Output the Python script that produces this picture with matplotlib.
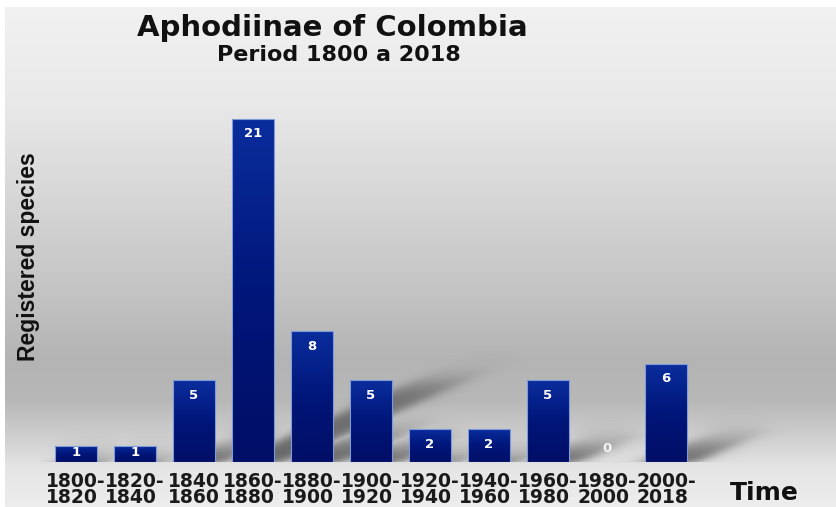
import numpy as np
import matplotlib
matplotlib.use("Agg")
import matplotlib.pyplot as plt
from matplotlib.patches import Rectangle
from matplotlib.colors import LinearSegmentedColormap

# ---- data ----
periods = ["1800-\n1820", "1820-\n1840", "1840\n1860", "1860-\n1880", "1880-\n1900",
           "1900-\n1920", "1920-\n1940", "1940-\n1960", "1960-\n1980", "1980-\n2000",
           "2000-\n2018"]
species = [1, 1, 5, 21, 8, 5, 2, 2, 5, 0, 6]

title = "Aphodiinae of Colombia"
subtitle = "Period 1800 a 2018"
ylabel = "Registered species"
xlabel = "Time"

W, H = 836, 507
fig = plt.figure(figsize=(W / 100, H / 100), dpi=100)
fig.patch.set_facecolor("white")

# ---- background gradient ----
bg = fig.add_axes([5 / W, 0, (W - 5) / W, (H - 7) / H])
bg.set_axis_off()
stops_px = np.array([7, 100, 200, 300, 360, 400, 440, 470, 507])
stops_v = np.array([0.945, 0.915, 0.84, 0.76, 0.705, 0.72, 0.82, 0.90, 0.93])
rows = np.linspace(7, 507, 500)
vals = np.interp(rows, stops_px, stops_v)
grad = np.repeat(vals[:, None], 2, axis=1)
bg.imshow(np.dstack([grad, grad, grad]), aspect="auto", extent=(0, 1, 0, 1))

# ---- main axes ----
left_px, right_px = 40, 830
base_px, top_px = 462, 100
ax = fig.add_axes([left_px / W, (H - base_px) / H, (right_px - left_px) / W,
                   (base_px - top_px) / H])
ax.patch.set_alpha(0)
PX_CAT, PX_UNIT = 59.0, 16.33
x0 = (left_px - 76) / PX_CAT
x1 = (right_px - 76) / PX_CAT
ymax = (base_px - top_px) / PX_UNIT
for s in ax.spines.values():
    s.set_visible(False)

x = np.arange(len(species))
bw = 0.71

# ---- soft diagonal shadows (computed from bar heights) ----
nx, ny = 790, 362
gx = np.linspace(x0, x1, nx)
gy = np.linspace(0, ymax, ny)
X, Y = np.meshgrid(gx, gy)
alpha = np.zeros_like(X)
sig = lambda z: 1.0 / (1.0 + np.exp(-z))
soft = 6.5
for xi, h in zip(x, species):
    if h <= 0:
        continue
    dx, dy = 0.145 * h, 0.235 * h
    t = np.clip(Y / dy, 0, 1.3)
    xl = xi - bw / 2 + t * dx
    xr = xi + bw / 2 + t * dx + 0.2
    a = sig((X - xl) * PX_CAT / soft) * sig((xr - X) * PX_CAT / soft)
    a *= sig((dy - Y) * PX_UNIT / soft)
    a *= sig((Y + 0.15) * PX_UNIT / 2.0)
    a *= (1 - 0.3 * np.clip(Y / dy, 0, 1))
    alpha = np.maximum(alpha, a)
rgba = np.zeros((ny, nx, 4))
rgba[..., :3] = 0.2
rgba[..., 3] = 0.72 * alpha
ax.imshow(rgba, origin="lower", extent=(x0, x1, 0, ymax), aspect="auto",
          zorder=1, interpolation="bilinear")

# bars with vertical gradient
cmap = LinearSegmentedColormap.from_list("barg", ["#000e66", "#00167a", "#0a2d9c"])
bars = ax.bar(x, species, width=bw, color="none", edgecolor="#7f9ad8",
              linewidth=0.8, zorder=4)
gvals = np.linspace(0, 1, 100)[:, None]
for b in bars:
    h = b.get_height()
    if h <= 0:
        continue
    bx = b.get_x()
    im = ax.imshow(gvals[::-1], cmap=cmap, aspect="auto",
                   extent=(bx, bx + b.get_width(), 0, h), zorder=3,
                   origin="upper")
    rect = Rectangle((bx, 0), b.get_width(), h, transform=ax.transData)
    im.set_clip_path(rect)
ax.set_xlim(x0, x1)
ax.set_ylim(0, ymax)

# value labels
for xi, h in zip(x, species):
    if h == 0:
        yy, col = 0.8, "#f4f4f4"
    elif h == 1:
        yy, col = 0.6, "white"
    else:
        yy, col = h - 0.9, "white"
    ax.text(xi, yy, str(h), ha="center", va="center", color=col,
            fontsize=9.5, fontweight="bold", family=["DejaVu Sans"], zorder=6)

ax.set_yticks([])
ax.set_xticks(x)
ax.set_xticklabels(periods, fontsize=13.5, fontweight="bold",
                   family=["DejaVu Sans"], linespacing=0.85, color="#1a1a1a")
ax.tick_params(axis="x", length=0, pad=7)
for t in ax.get_xticklabels():
    t.set_multialignment("left")

# titles and axis labels
fig.text(332 / W, 1 - 36 / H, title, ha="center", va="baseline", fontsize=21,
         fontweight="bold", family=["DejaVu Sans"], color="#111111")
fig.text(339 / W, 1 - 61 / H, subtitle, ha="center", va="baseline", fontsize=16,
         fontweight="bold", family=["DejaVu Sans"], color="#111111")
fig.text(29 / W, 1 - 257 / H, ylabel, ha="center", va="center", rotation=90,
         fontsize=16.5, fontweight="bold",
         family=["Liberation Sans", "DejaVu Sans"], color="#111111")
fig.text(764 / W, 1 - 500 / H, xlabel, ha="center", va="baseline", fontsize=18,
         fontweight="bold", family=["DejaVu Sans"], color="#111111")

fig.savefig("out.png", dpi=100)
